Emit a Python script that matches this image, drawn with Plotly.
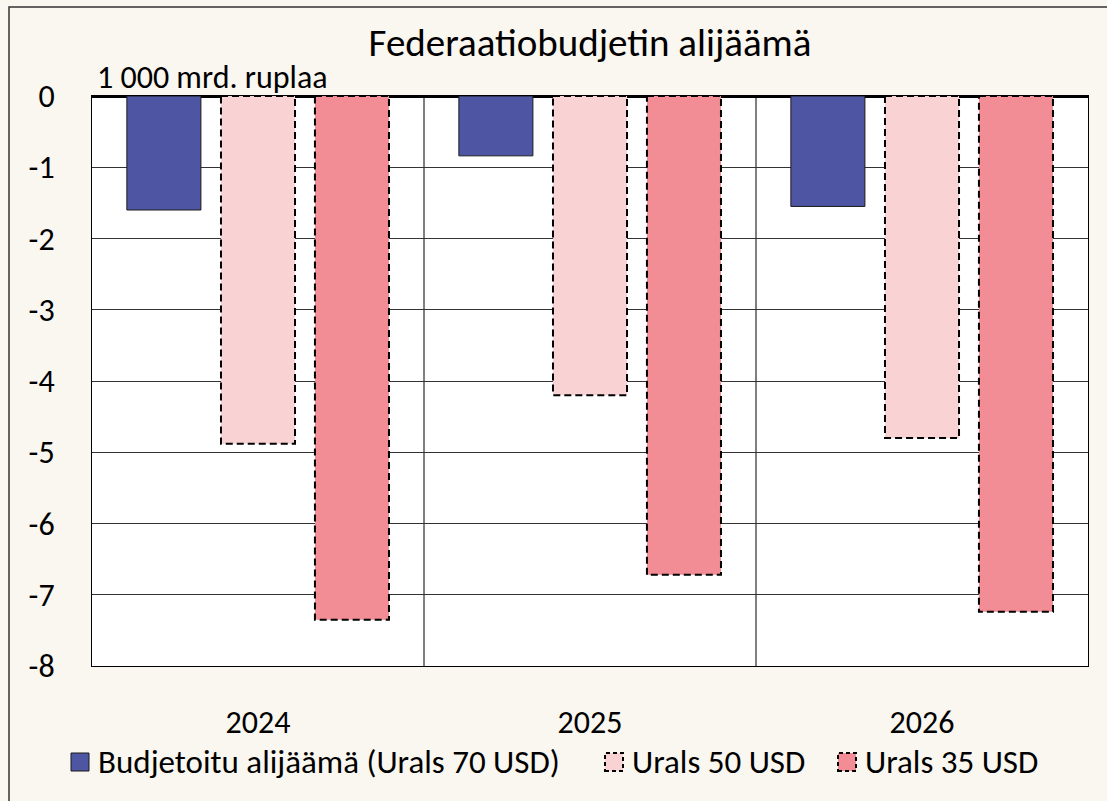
import plotly.graph_objects as go

# ---- data ----
years = ["2024", "2025", "2026"]
series_names = ["Budjetoitu alijäämä (Urals 70 USD)", "Urals 50 USD", "Urals 35 USD"]
budget_70 = [-1.60, -0.84, -1.55]
urals_50 = [-4.88, -4.20, -4.80]
urals_35 = [-7.35, -6.72, -7.24]
y_ticks = [0, -1, -2, -3, -4, -5, -6, -7, -8]

title_text = "Federaatiobudjetin alijäämä"
unit_text = "1 000 mrd. ruplaa"

# ---- style ----
W, H = 1107, 801
ML, MR, MT, MB = 92, 19, 96, 135
PW, PH = W - ML - MR, H - MT - MB
FONT = "Carlito, Calibri, Lato, sans-serif"
FS = 32
BG = "#FAF6F0"
colors = ["#4E56A4", "#F9D2D4", "#F28D95"]
dashed = [False, True, True]
bar_w = 0.223
offsets = [-0.395, -0.1115, 0.1715]
DASH = "7px,4px"


def px(x):
    return (x - ML) / PW


def py(y):
    return (H - MB - y) / PH


fig = go.Figure()
all_vals = [budget_70, urals_50, urals_35]
shapes = []
for name, vals, col, dsh, off in zip(series_names, all_vals, colors, dashed, offsets):
    fig.add_trace(go.Bar(
        x=list(range(len(years))), y=vals, name=name,
        width=bar_w, offset=off,
        marker=dict(color=col,
                    line=dict(color="#1a1a1a", width=0 if dsh else 1)),
        showlegend=False,
    ))
    if dsh:
        for i, v in enumerate(vals):
            shapes.append(dict(type="rect", xref="x", yref="y",
                               x0=i + off, x1=i + off + bar_w, y0=0, y1=v,
                               line=dict(color="black", width=2, dash=DASH),
                               layer="above"))

# outer frame
shapes.append(dict(type="rect", xref="paper", yref="paper",
                   x0=px(9), x1=px(1120), y0=py(815), y1=py(7),
                   line=dict(color="#333333", width=1.5), layer="below"))

# custom legend
leg_sq = [(71, 89), (605, 623), (838, 856)]
leg_txt = [98, 632, 865]
annotations = []
for (a, b), tx, col, dsh, name in zip(leg_sq, leg_txt, colors, dashed, series_names):
    shapes.append(dict(type="rect", xref="paper", yref="paper",
                       x0=px(a), x1=px(b), y0=py(771), y1=py(753),
                       fillcolor=col,
                       line=dict(color="black" if dsh else "#1a1a1a",
                                 width=2 if dsh else 1,
                                 dash="4px,3px" if dsh else "solid")))
    annotations.append(dict(xref="paper", yref="paper", x=px(tx - 2), y=py(762),
                            xanchor="left", yanchor="middle", showarrow=False,
                            text=name, font=dict(family=FONT, size=33, color="black")))

annotations.append(dict(xref="paper", yref="paper", x=px(95), y=py(78),
                        xanchor="left", yanchor="middle", showarrow=False,
                        text=unit_text, font=dict(family=FONT, size=FS, color="black")))

fig.update_layout(
    width=W, height=H,
    margin=dict(l=ML, r=MR, t=MT, b=MB),
    paper_bgcolor=BG, plot_bgcolor="white",
    title=dict(text=title_text, x=px(590), xref="paper", xanchor="center",
               y=1 - 42 / H, yref="container", yanchor="middle",
               font=dict(family=FONT, size=39, color="black")),
    font=dict(family=FONT, size=FS, color="black"),
    showlegend=False,
    shapes=shapes,
    annotations=annotations,
    bargap=0.15,
)
fig.update_xaxes(
    range=[-0.5, 2.5], tickmode="array", tickvals=list(range(len(years))),
    ticktext=years, showgrid=False, showline=True, mirror=True,
    linecolor="black", linewidth=1, ticks="", ticklabelstandoff=28,
    zeroline=False,
)
# category boundary lines
for b in [0.5, 1.5]:
    fig.add_shape(type="line", xref="x", yref="paper", x0=b, x1=b, y0=0, y1=1,
                  line=dict(color="black", width=1), layer="below")
fig.update_yaxes(
    range=[-8, 0], tickmode="array", tickvals=y_ticks,
    ticktext=[str(t) for t in y_ticks], showgrid=True, gridcolor="#333333",
    gridwidth=1, showline=True, mirror=True, linecolor="black", linewidth=1,
    zeroline=True, zerolinecolor="black", zerolinewidth=2.5,
    ticks="", ticklabelstandoff=30,
)
fig.write_html(
    "out.html",
    config={"displayModeBar": False},
    post_script=("document.body.style.margin='0px';"
                 "document.body.style.background='" + BG + "';"),
)
